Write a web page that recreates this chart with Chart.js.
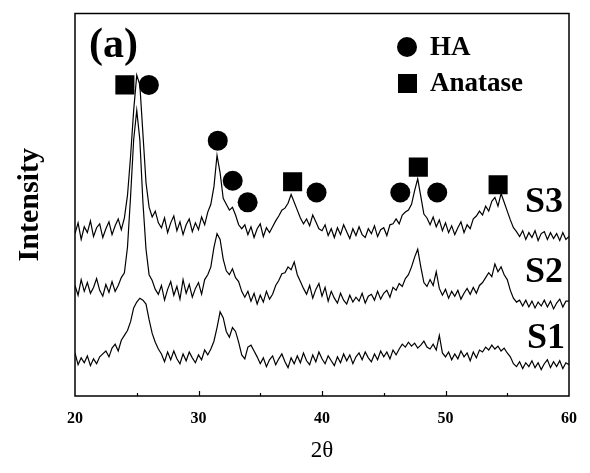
<!DOCTYPE html>
<html lang="en">
<head>
<meta charset="UTF-8">
<title>XRD patterns (a)</title>
<script src="https://cdn.jsdelivr.net/npm/chart.js"></script>
<style>
  html, body { margin: 0; padding: 0; background: #fff; }
</style>
</head>
<body>
<canvas id="xrdChart" width="590" height="473"></canvas>
<script>
// 2-theta grid: 20..60 deg, one value every 0.25 deg
const thetaStart = 20;
const thetaStep = 0.25;

// intensities (arbitrary units, each trace offset)
const s3 = [
  166, 177, 160, 173,  167, 179, 163, 172,  176, 162, 171, 178,  165, 174, 181, 170,
  182, 205, 245, 292,  328, 318, 268, 218,  193, 183, 189, 177,  172, 182, 167, 177,
  184, 169, 178, 165,  175, 181, 168, 177,  170, 183, 175, 188,  196, 214, 246, 228,
  202, 196, 190, 193,  185, 175, 171, 175,  165, 173, 162, 171,  176, 163, 172, 167,
  173, 179, 184, 190,  192, 197, 206, 198,  190, 182, 176, 181,  174, 185, 178, 171,
  169, 175, 164, 171,  162, 172, 165, 175,  168, 161, 171, 164,  173, 165, 162, 171,
  166, 174, 163, 170,  172, 164, 175, 176,  181, 176, 185, 188,  190, 196, 210, 222,
  204, 186, 182, 175,  183, 173, 180, 169,  177, 167, 174, 165,  172, 178, 167, 175,
  171, 181, 184, 189,  185, 194, 189, 199,  203, 194, 207, 198,  189, 180, 172, 168,
  163, 169, 160, 167,  162, 169, 159, 166,  168, 160, 167, 161,  166, 159, 167, 160,
  163
];
const s2 = [
  113, 103, 119, 107,  116, 105, 111, 120,  108, 102, 114, 106,  117, 107, 113, 121,
  126, 152, 204, 262,  292, 262, 198, 150,  124, 118, 109, 104,  113, 98, 109, 117,
  103, 112, 99, 119,  105, 114, 101, 110,  116, 104, 119, 124,  132, 152, 166, 160,
  140, 128, 124, 130,  121, 117, 107, 101,  107, 97, 105, 94,  103, 96, 107, 99,
  104, 113, 118, 125,  126, 132, 129, 137,  124, 117, 110, 104,  113, 100, 109, 115,
  102, 111, 97, 107,  100, 95, 105, 98,  94, 103, 96, 101,  97, 105, 95, 102,
  104, 98, 107, 99,  105, 108, 101, 111,  108, 115, 112, 120,  124, 132, 142, 150,
  132, 116, 112, 119,  113, 127, 110, 103,  109, 100, 107, 102,  108, 99, 105, 110,
  104, 111, 105, 113,  116, 121, 126, 122,  135, 127, 132, 124,  119, 108, 100, 96,
  98, 92, 98, 91,  97, 90, 96, 92,  98, 91, 97, 89,  95, 99, 91, 97,
  97
];
const s1 = [
  44, 32, 39, 34,  41, 31, 38, 33,  40, 43, 46, 40,  49, 53, 46, 57,
  62, 67, 76, 90,  96, 100, 98, 94,  78, 64, 55, 48,  43, 35, 45, 37,
  46, 38, 33, 43,  36, 45, 39, 34,  42, 37, 47, 42,  48, 56, 70, 86,
  80, 66, 60, 70,  66, 55, 42, 38,  50, 52, 46, 40,  33, 39, 30, 37,
  41, 32, 38, 43,  35, 29, 39, 33,  41, 34, 44, 36,  32, 42, 35, 45,
  38, 33, 41, 36,  31, 40, 34, 43,  36, 42, 33, 40,  44, 37, 45, 39,
  35, 43, 37, 46,  40, 45, 38, 47,  42, 48, 53, 50,  55, 51, 54, 49,
  52, 56, 50, 48,  53, 47, 62, 44,  40, 45, 37, 43,  38, 46, 40, 44,
  36, 45, 39, 47,  45, 50, 47, 52,  48, 51, 46, 49,  44, 40, 33, 30,
  35, 28, 34, 30,  36, 29, 34, 27,  33, 37, 29, 35,  30, 36, 28, 34,
  32
];

// phase markers over the peaks
const haX = [25.98, 31.56, 32.77, 33.98, 39.56, 46.34, 49.33];
const haY = [318, 261, 220, 198, 208, 208, 208];
const anataseX = [24.04, 37.62, 47.8, 54.26];
const anataseY = [318, 219, 234, 216];

const xMin = 20, xMax = 60, yMax = 391;

function toPoints(values) {
    return values.map((v, i) => ({ x: thetaStart + i * thetaStep, y: v }));
}
function markerPoints(xs, ys) {
    return xs.map((x, i) => ({ x: x, y: ys[i] }));
}

const serif = '"Liberation Serif", "DejaVu Serif", serif';

// frame, inward ticks, panel letter, legend and sample names
const decorations = {
    id: 'decorations',
    afterDraw(chart) {
        const ctx = chart.ctx;
        const a = chart.chartArea;
        const xs = chart.scales.x;
        ctx.save();
        ctx.strokeStyle = '#000';
        ctx.lineWidth = 1.5;
        ctx.strokeRect(a.left, a.top, a.right - a.left, a.bottom - a.top);

        ctx.lineWidth = 1.2;
        for (let t = xMin + 5; t < xMax; t += 5) {
            const px = Math.round(xs.getPixelForValue(t)) + 0.5;
            const len = t % 10 === 0 ? 5 : 3;
            ctx.beginPath();
            ctx.moveTo(px, a.bottom);
            ctx.lineTo(px, a.bottom - len);
            ctx.stroke();
        }

        ctx.fillStyle = '#000';
        ctx.textBaseline = 'alphabetic';
        ctx.textAlign = 'left';
        ctx.font = 'bold 42px ' + serif;
        ctx.fillText('(a)', 89, 57);

        // legend
        ctx.beginPath();
        ctx.arc(407, 47, 10, 0, Math.PI * 2);
        ctx.fill();
        ctx.fillRect(398, 74, 19, 19);
        ctx.font = 'bold 27px ' + serif;
        ctx.fillText('HA', 430, 55);
        ctx.fillText('Anatase', 430, 91);

        ctx.font = 'bold 36px ' + serif;
        ctx.fillText('S3', 525, 212);
        ctx.fillText('S2', 525, 282);
        ctx.fillText('S1', 527, 348);
        ctx.restore();
    }
};

const lineStyle = {
    type: 'line',
    borderColor: '#000',
    borderWidth: 1.2,
    pointRadius: 0,
    tension: 0,
    fill: false
};

new Chart(document.getElementById('xrdChart'), {
    type: 'line',
    data: {
        datasets: [
            Object.assign({ label: 'S3', data: toPoints(s3) }, lineStyle),
            Object.assign({ label: 'S2', data: toPoints(s2) }, lineStyle),
            Object.assign({ label: 'S1', data: toPoints(s1) }, lineStyle),
            {
                type: 'scatter',
                label: 'HA',
                data: markerPoints(haX, haY),
                pointStyle: 'circle',
                pointRadius: 10,
                backgroundColor: '#000',
                borderColor: '#000',
                borderWidth: 0,
                showLine: false
            },
            {
                type: 'scatter',
                label: 'Anatase',
                data: markerPoints(anataseX, anataseY),
                pointStyle: 'rect',
                pointRadius: 13.5,
                backgroundColor: '#000',
                borderColor: '#000',
                borderWidth: 0,
                showLine: false
            }
        ]
    },
    options: {
        responsive: false,
        animation: false,
        events: [],
        layout: { padding: { top: 5, right: 20, left: 0, bottom: 0 } },
        plugins: {
            legend: { display: false },
            tooltip: { enabled: false }
        },
        scales: {
            x: {
                type: 'linear',
                min: xMin,
                max: xMax,
                afterFit(scale) { scale.height = 77; },
                afterBuildTicks(scale) {
                    scale.ticks = [20, 30, 40, 50, 60].map(v => ({ value: v }));
                },
                grid: { display: false, drawTicks: false },
                border: { display: false },
                ticks: {
                    padding: 13,
                    color: '#000',
                    font: { family: serif, size: 16, weight: 'bold' }
                },
                title: {
                    display: true,
                    text: '2θ',
                    color: '#000',
                    padding: { top: 0, bottom: 8 },
                    font: { family: serif, size: 23 }
                }
            },
            y: {
                min: 0,
                max: yMax,
                afterFit(scale) { scale.width = 75; },
                grid: { display: false, drawTicks: false },
                border: { display: false },
                ticks: { display: false },
                title: {
                    display: true,
                    text: 'Intensity',
                    color: '#000',
                    padding: { top: 12, bottom: 0 },
                    font: { family: serif, size: 30, weight: 'bold' }
                }
            }
        }
    },
    plugins: [decorations]
});
</script>
</body>
</html>
